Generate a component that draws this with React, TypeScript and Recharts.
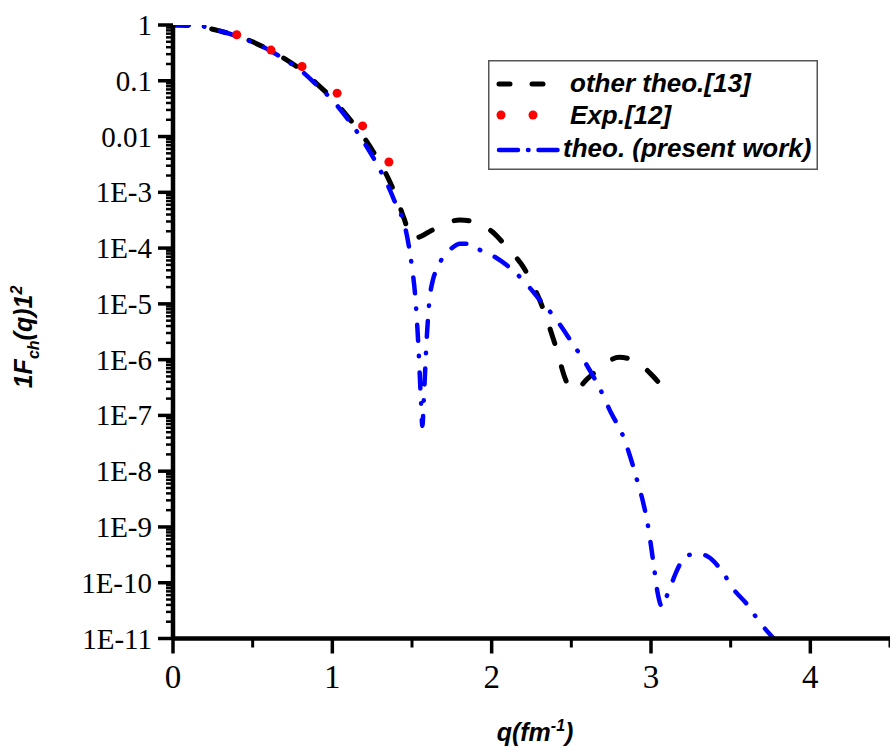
import React from 'react';
import { LineChart, Line, XAxis, YAxis, Legend } from 'recharts';

// ---- data ----
const otherQ = [0, 0.1, 0.2, 0.3, 0.4, 0.5, 0.6, 0.7, 0.8, 0.9, 1.0, 1.1, 1.2, 1.3, 1.35, 1.4, 1.45, 1.5, 1.55, 1.6, 1.7, 1.8, 1.9, 2.0, 2.1, 2.2, 2.3, 2.4, 2.47, 2.52, 2.6, 2.7, 2.8, 2.9, 3.0, 3.07];
const otherF = [1, 0.98, 0.9, 0.77, 0.64, 0.5, 0.36, 0.25, 0.16, 0.09, 0.048, 0.022, 0.0095, 0.0033, 0.0018, 8.5e-4, 3.4e-4, 1.45e-4, 1.6e-4, 1.9e-4, 2.7e-4, 3.2e-4, 2.9e-4, 2.0e-4, 1.0e-4, 4.5e-5, 1.2e-5, 1.8e-6, 4e-7, 2.8e-7, 4.5e-7, 8e-7, 1.1e-6, 9.5e-7, 5.5e-7, 3.3e-7];

const theoQ = [0, 0.1, 0.2, 0.3, 0.4, 0.5, 0.6, 0.7, 0.8, 0.9, 1.0, 1.1, 1.2, 1.3, 1.35, 1.4, 1.45, 1.48, 1.5, 1.52, 1.54, 1.555, 1.565, 1.575, 1.59, 1.61, 1.63, 1.66, 1.7, 1.75, 1.8, 1.85, 1.9, 2.0, 2.1, 2.2, 2.3, 2.4, 2.5, 2.6, 2.68, 2.75, 2.82, 2.87, 2.91, 2.95, 2.98, 3.0, 3.02, 3.04, 3.07, 3.09, 3.115, 3.16, 3.2, 3.25, 3.3, 3.36, 3.44, 3.52, 3.6, 3.68, 3.77];
const theoF = [1, 1.0, 0.93, 0.78, 0.63, 0.49, 0.36, 0.24, 0.155, 0.085, 0.045, 0.02, 0.0078, 0.0025, 1.3e-3, 6e-4, 2.8e-4, 1.1e-4, 4.5e-5, 1.4e-5, 1.8e-6, 2.2e-7, 6.5e-8, 2.2e-7, 1.8e-6, 1.2e-5, 2.6e-5, 4.4e-5, 7.3e-5, 1.0e-4, 1.2e-4, 1.2e-4, 1.0e-4, 7.5e-5, 4.8e-5, 2.6e-5, 1.2e-5, 5.5e-6, 2.1e-6, 7.7e-7, 3e-7, 1.1e-7, 4.6e-8, 1.8e-8, 7.3e-9, 2.8e-9, 1.1e-9, 4.6e-10, 1.8e-10, 7e-11, 3.7e-11, 5e-11, 7.5e-11, 1.6e-10, 2.6e-10, 3.2e-10, 3.3e-10, 2.9e-10, 1.7e-10, 7.5e-11, 4.2e-11, 2e-11, 1e-11];

const expQ = [0.4, 0.615, 0.81, 1.03, 1.19, 1.355];
const expF = [0.67, 0.355, 0.18, 0.06, 0.0155, 0.0035];

const xTicks = [0, 0.5, 1, 1.5, 2, 2.5, 3, 3.5, 4, 4.5];
const xTickLabels = ['0', '', '1', '', '2', '', '3', '', '4', ''];

const yMajorTicks = [1, 0.1, 0.01, 1e-3, 1e-4, 1e-5, 1e-6, 1e-7, 1e-8, 1e-9, 1e-10, 1e-11];
const yTickLabels = ['1', '0.1', '0.01', '1E-3', '1E-4', '1E-5', '1E-6', '1E-7', '1E-8', '1E-9', '1E-10', '1E-11'];

const seriesNames = ['other theo.[13]', 'Exp.[12]', 'theo. (present work)'];

// ---- derived tables ----
const toRows = (q: number[], f: number[]) => q.map((x, i) => ({ q: x, v: f[i] }));
const otherRows = toRows(otherQ, otherF);
const theoRows = toRows(theoQ, theoF);
const expRows = toRows(expQ, expF);

const yMinorTicks: number[] = [];
yMajorTicks.forEach((d) => {
  for (let m = 2; m <= 9; m++) {
    if (m * d < 1) yMinorTicks.push(m * d);
  }
});
const yAllTicks = [...yMajorTicks, ...yMinorTicks].sort((a, b) => a - b);

const majorIndex = (v: number) =>
  yMajorTicks.findIndex((t) => Math.abs(Math.log10(t) - Math.log10(v)) < 1e-6);

const SERIF = '"Liberation Serif", "Times New Roman", serif';
const SANS = '"Liberation Sans", Arial, sans-serif';

const YTick = (props: any) => {
  const { x, y, payload } = props;
  const i = majorIndex(payload.value);
  if (i < 0) {
    return <line x1={x - 7} x2={x} y1={y} y2={y} stroke="#000" strokeWidth={2.5} />;
  }
  return (
    <g>
      <line x1={x - 15} x2={x} y1={y} y2={y} stroke="#000" strokeWidth={3.5} />
      <text x={x - 21} y={y} textAnchor="end" dominantBaseline="central" fontFamily={SERIF} fontSize={29} fill="#000">
        {yTickLabels[i]}
      </text>
    </g>
  );
};

const XTick = (props: any) => {
  const { x, y, payload } = props;
  const i = xTicks.findIndex((t) => Math.abs(t - payload.value) < 1e-9);
  const label = i >= 0 ? xTickLabels[i] : '';
  if (!label) {
    return <line x1={x} x2={x} y1={y} y2={y + 9} stroke="#000" strokeWidth={3} />;
  }
  return (
    <g>
      <line x1={x} x2={x} y1={y} y2={y + 15} stroke="#000" strokeWidth={3.5} />
      <text x={x} y={y + 49.5} textAnchor="middle" fontFamily={SERIF} fontSize={33} fill="#000">
        {label}
      </text>
    </g>
  );
};

const XTitle = () => (
  <text x={535} y={741} textAnchor="middle" fontFamily={SANS} fontWeight="bold" fontStyle="italic" fontSize={25} fill="#000">
    q(fm
    <tspan dy={-10} fontSize={16}>-1</tspan>
    <tspan dy={10} fontSize={25}>)</tspan>
  </text>
);

const YTitle = () => (
  <text
    x={32}
    y={337}
    transform="rotate(-90, 32, 337)"
    textAnchor="middle"
    fontFamily={SANS}
    fontWeight="bold"
    fontStyle="italic"
    fontSize={25}
    fill="#000"
  >
    1F
    <tspan dy={7} fontSize={16}>ch</tspan>
    <tspan dy={-7} fontSize={25}>(q)1</tspan>
    <tspan dy={-10} fontSize={16}>2</tspan>
  </text>
);

const legendText = {
  fontFamily: SANS,
  fontWeight: 'bold' as const,
  fontStyle: 'italic' as const,
  fontSize: 26,
  fill: '#000',
};

const LegendBox = () => (
  <svg width={332} height={112} style={{ display: 'block', overflow: 'visible' }}>
    <rect x={0.75} y={0.75} width={328.5} height={108.5} fill="#fff" stroke="#555" strokeWidth={1.5} />
    <line x1={11} x2={57} y1={24} y2={24} stroke="#000" strokeWidth={5} strokeDasharray="11 22" strokeLinecap="round" />
    <text x={82} y={32} {...legendText}>{seriesNames[0]}</text>
    <circle cx={13} cy={55} r={4.5} fill="#ff0000" />
    <circle cx={45} cy={55} r={4.5} fill="#ff0000" />
    <text x={82} y={64} {...legendText}>{seriesNames[1]}</text>
    <line x1={11} x2={70} y1={90} y2={90} stroke="#0000ff" strokeWidth={4.5} strokeDasharray="19 10 0.5 10" strokeLinecap="round" />
    <text x={75} y={97} {...legendText}>{seriesNames[2]}</text>
  </svg>
);

export default function App() {
  return (
    <div style={{ position: 'absolute', left: 0, top: 0, width: 890, height: 751, background: '#fff' }}>
      <LineChart width={890} height={751} margin={{ top: 25, right: 0, bottom: 0, left: 0 }}>
        <XAxis
          type="number"
          dataKey="q"
          domain={[0, 4.5]}
          ticks={xTicks}
          interval={0}
          tickSize={0}
          tickMargin={0}
          tickLine={false}
          axisLine={{ stroke: '#000', strokeWidth: 4.5 }}
          tick={(p: any) => <XTick {...p} />}
          height={112.5}
          allowDataOverflow
          label={<XTitle />}
        />
        <YAxis
          type="number"
          scale="log"
          domain={[1e-11, 1]}
          ticks={yAllTicks}
          interval={0}
          tickSize={0}
          tickMargin={0}
          tickLine={false}
          axisLine={{ stroke: '#000', strokeWidth: 4.5 }}
          tick={(p: any) => <YTick {...p} />}
          width={173}
          allowDataOverflow
          label={<YTitle />}
        />
        <Line
          data={expRows}
          dataKey="v"
          name={seriesNames[1]}
          type="linear"
          stroke="none"
          dot={{ r: 4.5, fill: '#ff0000', stroke: 'none' }}
          isAnimationActive={false}
        />
        <Line
          data={otherRows}
          dataKey="v"
          name={seriesNames[0]}
          type="monotone"
          stroke="#000"
          strokeWidth={5}
          strokeDasharray="15 24"
          strokeLinecap="round"
          dot={false}
          isAnimationActive={false}
        />
        <Line
          data={theoRows}
          dataKey="v"
          name={seriesNames[2]}
          type="monotone"
          stroke="#0000ff"
          strokeWidth={4.5}
          strokeDasharray="16 15 0.5 16"
          strokeLinecap="round"
          dot={false}
          isAnimationActive={false}
        />
        <Legend
          layout="vertical"
          align="center"
          verticalAlign="middle"
          content={<LegendBox />}
          wrapperStyle={{ left: 488, top: 60, width: 332, height: 112 }}
        />
      </LineChart>
    </div>
  );
}
